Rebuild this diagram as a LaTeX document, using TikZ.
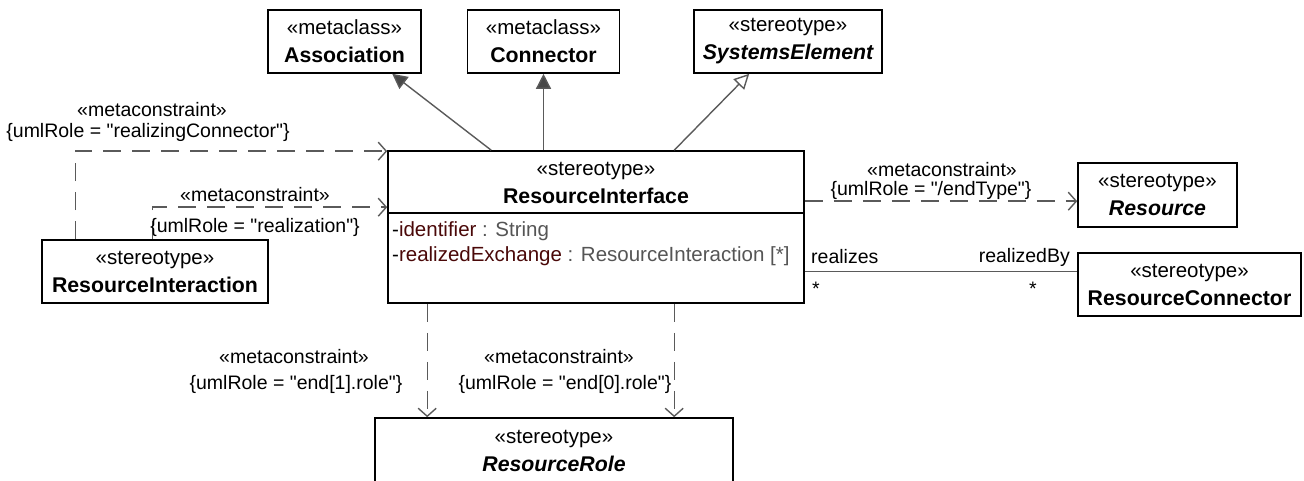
\documentclass[tikz,border=0pt]{standalone}
\usepackage{fontspec}
\setmainfont{Liberation Sans}[Ligatures=TeXOff]
\usetikzlibrary{arrows.meta,positioning,calc}
\definecolor{linegray}{HTML}{5A5A5A}
\definecolor{attrred}{HTML}{4A0808}
\definecolor{typegray}{HTML}{555555}
\newcommand\cname[1]{{\fontsize{21.3}{28}\selectfont\bfseries #1}}

\begin{document}
\begin{tikzpicture}[
  x=1pt,y=-1pt,
  every node/.style={align=center,inner sep=0pt,font=\fontsize{20.5}{28}\selectfont},
  cls/.style={rectangle,draw=black,line width=1.6pt,minimum height=63pt},
  lbl/.style={font=\fontsize{19.5}{22}\selectfont},
  meta/.style={linegray,line width=1.4pt,dash pattern=on 18pt off 11pt,
    -{Straight Barb[length=8pt,width=18pt,line width=1.4pt]}},
  ext/.style={linegray,line width=1.4pt,-{Triangle[length=15pt,width=15pt,fill=linegray!80!black]}},
  gen/.style={linegray,line width=1.4pt,-{Triangle[open,length=15pt,width=15pt,fill=white]}},
  assoc/.style={linegray,line width=1.4pt}
]
\useasboundingbox (0,0) rectangle (1304,481);
\clip (0,0) rectangle (1304,481);

% classes
\node[cls,minimum width=153pt] (assoc) at (344.5,41.5) {«metaclass»\\\cname{Association}};
\node[cls,minimum width=152pt] (conn) at (543.5,41.5) {«metaclass»\\\cname{Connector}};
\node[cls,minimum width=188pt] (syselem) at (788,41.5) {«stereotype»\\\cname{\itshape SystemsElement}};
\node[cls,minimum width=416pt,minimum height=152pt] (rif) at (596,227) {};
\node (rifhead) at (596,183) {«stereotype»\\\cname{ResourceInterface}};
\draw[line width=1.6pt] ($(rif.north west)+(0,63)$) -- ($(rif.north east)+(0,63)$);
\node[anchor=west] (attrid) at (392,231) {-\textcolor{attrred}{identifier} \textcolor{typegray}{: String}};
\node[anchor=west] (attrex) at (392,256) {-\textcolor{attrred}{realizedExchange} \textcolor{typegray}{: ResourceInteraction [*]}};
\node[cls,minimum width=159pt,minimum height=64pt] (resource) at (1157.5,195) {«stereotype»\\\cname{\itshape Resource}};
\node[cls,minimum width=223pt] (rcon) at (1189.5,284.5) {«stereotype»\\\cname{ResourceConnector}};
\node[cls,minimum width=226pt] (rinter) at (155,271.5) {«stereotype»\\\cname{ResourceInteraction}};
\node[cls,minimum width=358pt,minimum height=66pt] (rrole) at (554,451) {«stereotype»\\\cname{\itshape ResourceRole}};

% generalizations / extensions
\draw[ext] ($(rif.north west)+(104,0)$) -- ($(assoc.south west)+(125,0)$);
\draw[ext] (rif.north -| conn.south) -- (conn.south);
\draw[gen] ($(rif.north west)+(287,0)$) -- ($(syselem.south west)+(56,0)$);

% metaconstraints
\draw[meta] ($(rinter.north west)+(34,0)$) |- ($(rif.north west)+(0,1)$);
\node[lbl] (mcconn) at (152,110) {«metaconstraint»};
\node[lbl] (rlconn) at (148,132) {\{umlRole = "realizingConnector"\}};
\draw[meta] ($(rinter.north west)+(111,0)$) |- ($(rif.north west)+(0,57)$);
\node[lbl] (mcreal) at (255,195) {«metaconstraint»};
\node[lbl] (rlreal) at (255,227) {\{umlRole = "realization"\}};
\draw[meta] ($(rif.north east)+(0,51)$) -- ($(resource.north west)+(0,39)$);
\node[lbl] (mcend) at (942,170) {«metaconstraint»};
\node[lbl] (rlend) at (931,190) {\{umlRole = "/endType"\}};
\draw[meta] ($(rif.south west)+(40,0)$) -- ($(rrole.north west)+(53,0)$);
\node[lbl] (mcone) at (294,357) {«metaconstraint»};
\node[lbl] (rlone) at (296,384) {\{umlRole = "end[1].role"\}};
\draw[meta] ($(rif.south west)+(287,0)$) -- ($(rrole.north west)+(300,0)$);
\node[lbl] (mczero) at (559,357) {«metaconstraint»};
\node[lbl] (rlzero) at (565,384) {\{umlRole = "end[0].role"\}};

% association
\draw[assoc] ($(rif.north east)+(0,121)$) -- ($(rcon.north west)+(0,19)$);
\node[lbl,anchor=west] (realizes) at (811,257) {realizes};
\node[lbl,anchor=west] (multa) at (812,289) {*};
\node[lbl,anchor=east] (realizedby) at (1070,257) {realizedBy};
\node[lbl,anchor=west] (multb) at (1029,289) {*};
\end{tikzpicture}
\end{document}
